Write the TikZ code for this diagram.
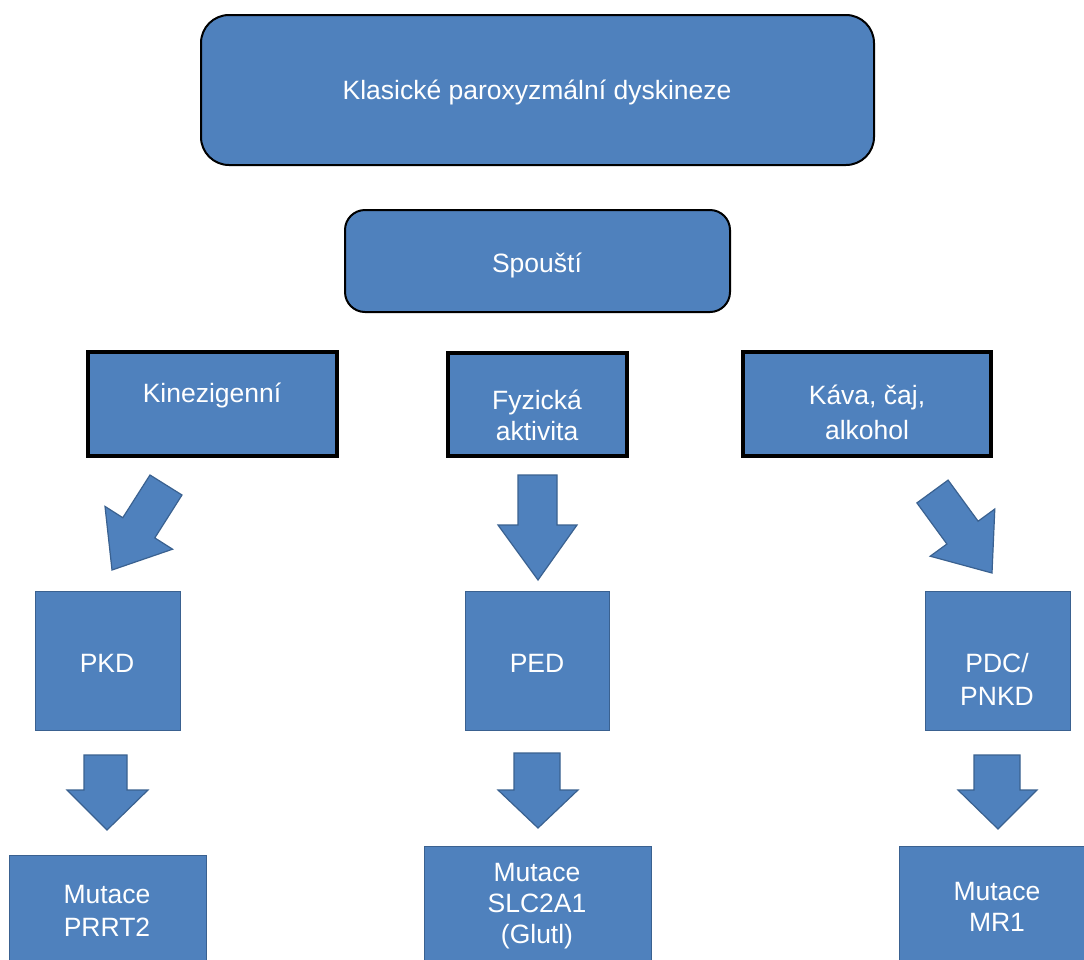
\documentclass[tikz,border=0pt]{standalone}
\usepackage{fontspec}
\setmainfont{Liberation Sans}
\definecolor{boxblue}{HTML}{4F81BD}
\definecolor{edgeblue}{HTML}{3A6190}
\tikzset{
  x=1pt, y=-1pt,
  roundbox/.style={draw=black, line width=2pt, fill=boxblue, rounded corners=#1},
  trigbox/.style={draw=black, line width=3.8pt, fill=boxblue},
  plainbox/.style={draw=edgeblue, line width=1pt, fill=boxblue},
  blockarrow/.style={draw=edgeblue, line width=1.2pt, fill=boxblue, line join=miter},
  lbl/.style={text=white, align=center, inner sep=0pt, font=\fontsize{26.5}{34}\selectfont},
}
\begin{document}
\begin{tikzpicture}
\clip (0,0) rectangle (1084,959);
\fill[white] (0,0) rectangle (1084,959);

% rounded header boxes
\draw[roundbox=28] (201,15) rectangle (874,165);
\node[lbl] (top) at (537,92) {Klasické paroxyzmální dyskineze};
\draw[roundbox=20] (345,210) rectangle (730,312);
\node[lbl] (spoust) at (537,265) {Spouští};

% trigger boxes
\draw[trigbox] (88,352) rectangle (337,456);
\node[lbl] (kin) at (212,395) {Kinezigenní};
\draw[trigbox] (448,353) rectangle (627,456);
\node[lbl, font=\fontsize{26.5}{31}\selectfont] (fyz) at (537,415) {Fyzická\\aktivita};
\draw[trigbox] (743,352) rectangle (991,456);
\node[lbl, font=\fontsize{26.5}{35}\selectfont] (kava) at (867,412) {Káva, čaj,\\alkohol};

% diagonal / vertical block arrows (row 1)
\draw[blockarrow] (150,475) -- (182,495) -- (154.8,537.9) -- (172.6,549.2) -- (112,570) -- (105,506.4) -- (122.8,517.7) -- cycle;
\draw[blockarrow] (518,475) -- (557,475) -- (557,525) -- (577,525) -- (538,580) -- (498,525) -- (518,525) -- cycle;
\draw[blockarrow] (948.1,480.1) -- (916.9,502.9) -- (946.9,544.0) -- (930.2,556.2) -- (992,573) -- (994.8,509.0) -- (978.1,521.2) -- cycle;

% disorder boxes
\draw[plainbox] (35,591) rectangle (180,730);
\node[lbl] (pkd) at (107,663) {PKD};
\draw[plainbox] (465,591) rectangle (609,730);
\node[lbl] (ped) at (537,663) {PED};
\draw[plainbox] (925,591) rectangle (1070,730);
\node[lbl, font=\fontsize{26.5}{33}\selectfont] (pdc) at (997,679) {PDC/\\PNKD};

% vertical block arrows (row 2)
\draw[blockarrow] (84,755) -- (127,755) -- (127,790) -- (148,790) -- (107,830) -- (67,790) -- (84,790) -- cycle;
\draw[blockarrow] (514,753) -- (560,753) -- (560,790) -- (578,790) -- (538,828) -- (498,790) -- (514,790) -- cycle;
\draw[blockarrow] (974,755) -- (1020,755) -- (1020,790) -- (1037,790) -- (998,829) -- (958,790) -- (974,790) -- cycle;

% mutation boxes
\draw[plainbox] (9,855) rectangle (206,965);
\node[lbl, font=\fontsize{26.5}{33}\selectfont] (m1) at (107,911) {Mutace\\PRRT2};
\draw[plainbox] (424,846) rectangle (651,965);
\node[lbl, font=\fontsize{26.5}{31}\selectfont] (m2) at (537,906) {Mutace\\SLC2A1\\(Glutl)};
\draw[plainbox] (899,846) rectangle (1090,965);
\node[lbl, font=\fontsize{26.5}{31}\selectfont] (m3) at (997,907) {Mutace\\MR1};
\end{tikzpicture}
\end{document}
